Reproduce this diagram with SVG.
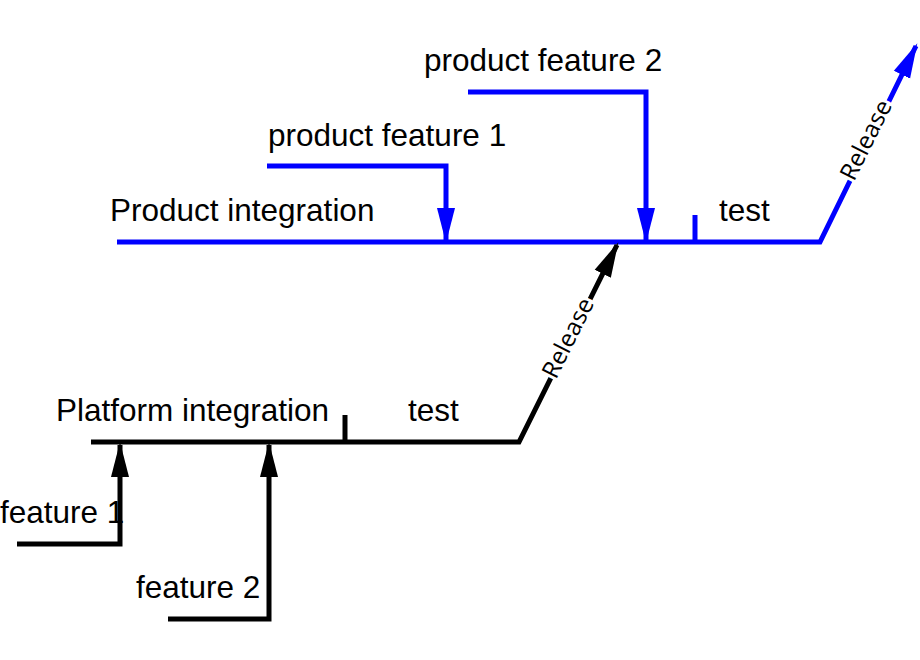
<svg xmlns="http://www.w3.org/2000/svg" width="920" height="660" viewBox="0 0 920 660">
<style>
.t{font-family:"Liberation Sans",Arial,sans-serif;font-size:31.5px;fill:#000}
.r{font-family:"Open Sans","Liberation Sans",sans-serif;font-size:24px;fill:#000;stroke:#fff;stroke-width:6;paint-order:stroke}
.b{stroke:#0000ff;stroke-width:5;fill:none}
.k{stroke:#000;stroke-width:5;fill:none}
</style>
<defs>
<marker id="ab" markerWidth="7" markerHeight="4" refX="6.4" refY="2" orient="auto" markerUnits="strokeWidth"><path d="M0,0.2 L7,2 L0,3.8 Z" fill="#0000ff"/></marker>
<marker id="ak" markerWidth="7" markerHeight="4" refX="6.4" refY="2" orient="auto" markerUnits="strokeWidth"><path d="M0,0.2 L7,2 L0,3.8 Z" fill="#000"/></marker>
</defs>
<rect width="920" height="660" fill="#fff"/>
<g id="connectors">
<path class="b" d="M117,242 L820,242 L916,46" marker-end="url(#ab)"/>
<path class="b" d="M267,166 L446,166 L446,240" marker-end="url(#ab)"/>
<path class="b" d="M468,92 L646,92 L646,240" marker-end="url(#ab)"/>
<line class="b" x1="695" y1="215" x2="695" y2="244"/>
<path class="k" d="M91,442 L519,442 L617,245" marker-end="url(#ak)"/>
<line class="k" x1="345" y1="415" x2="345" y2="444"/>
<path class="k" d="M17,544 L120,544 L120,445" marker-end="url(#ak)"/>
<path class="k" d="M168,619 L269,619 L269,445" marker-end="url(#ak)"/>
</g>
<g id="product-integration"><text class="t" x="110" y="221">Product integration</text></g>
<g id="product-feature-1"><text class="t" x="268" y="146">product feature 1</text></g>
<g id="product-feature-2"><text class="t" x="424" y="71">product feature 2</text></g>
<g id="product-test"><text class="t" x="719" y="221">test</text></g>
<g id="product-release"><text class="r" transform="translate(866,140) rotate(-63.4)" text-anchor="middle" dy="8">Release</text></g>
<g id="platform-integration"><text class="t" x="56" y="421">Platform integration</text></g>
<g id="platform-test"><text class="t" x="408" y="421">test</text></g>
<g id="platform-release"><text class="r" transform="translate(568,338) rotate(-63.4)" text-anchor="middle" dy="8">Release</text></g>
<g id="feature-1"><text class="t" x="0" y="523">feature 1</text></g>
<g id="feature-2"><text class="t" x="136" y="598">feature 2</text></g>
</svg>
